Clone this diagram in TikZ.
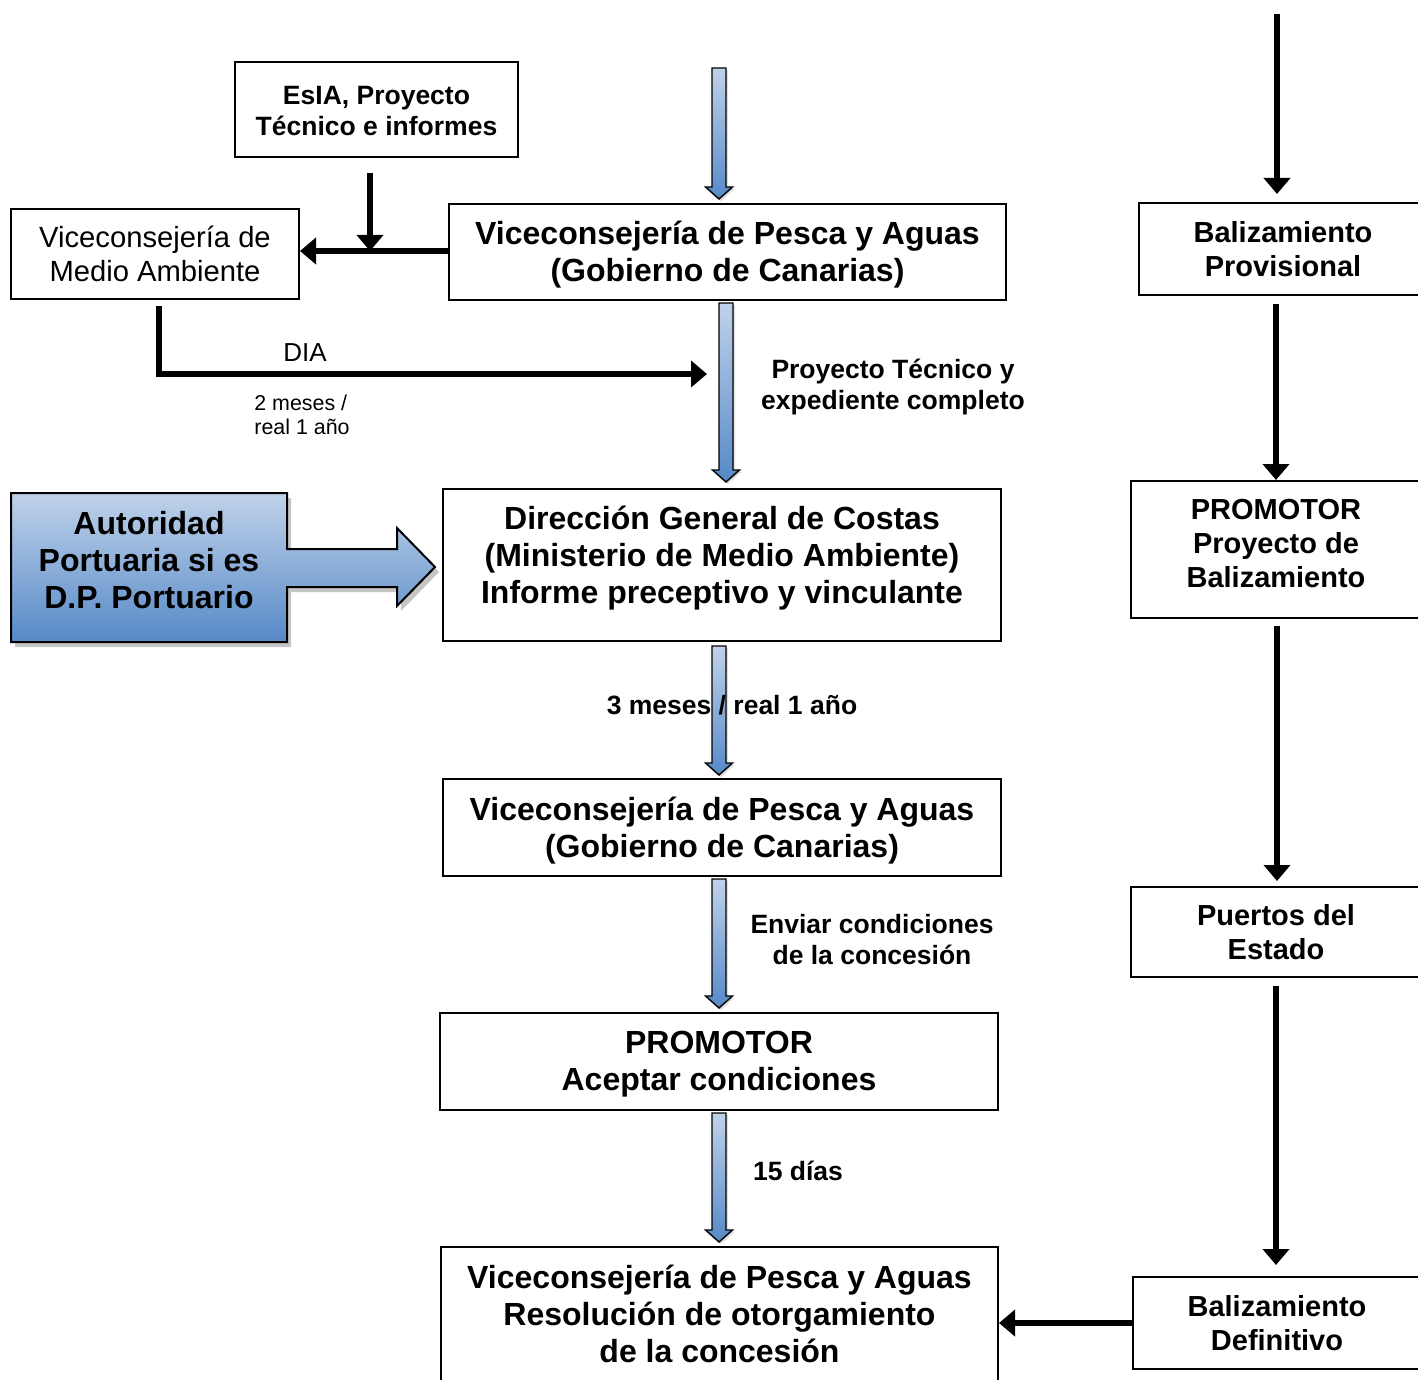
\documentclass[tikz,border=0pt]{standalone}
\usepackage{fontspec}
\setmainfont{Liberation Sans}
\usetikzlibrary{arrows.meta,calc,shadows}
\definecolor{bltop}{RGB}{192,210,234}
\definecolor{blbot}{RGB}{86,137,199}
\newcommand\blarrow[2]{%
  \path[blarrowstyle] let \p1=(#1), \p2=(#2) in
    (\x1-3.5pt,\y1) -- (\x1-3.5pt,\y2+6pt) -- (\x1-6.75pt,\y2+6pt) -- (\x1,\y2)
    -- (\x1+6.75pt,\y2+6pt) -- (\x1+3.5pt,\y2+6pt) -- (\x1+3.5pt,\y1) -- cycle;}
\begin{document}
\begin{tikzpicture}[x=0.5pt,y=-0.5pt,
  box/.style={draw, line width=1pt, inner sep=0pt, align=center},
  bigf/.style={font=\bfseries\fontsize{16}{18.5}\selectfont},
  midf/.style={font=\bfseries\fontsize{13.25}{15.5}\selectfont},
  rf/.style={font=\bfseries\fontsize{14.5}{17}\selectfont},
  lbl/.style={inner sep=0pt, align=center},
  blk/.style={line width=2.75pt, -{Triangle[width=13pt,length=8pt]}},
  blarrowstyle/.style={draw=black, line width=0.7pt, top color=bltop, bottom color=blbot,
     drop shadow={shadow xshift=1pt, shadow yshift=-1pt, opacity=0.25}},
]
\useasboundingbox (0,0) rectangle (1418,1380);
\clip (0,0) rectangle (1418,1380);
\fill[white] (0,0) rectangle (1418,1380);

% ---- boxes ----
\node[box, minimum width=141.5pt, minimum height=47.5pt] (esia) at (376.5,109.5) {};
\node[lbl, midf] (esiat) at (376.5,111) {EsIA, Proyecto\\Técnico e informes};
\node[box, font=\fontsize{14.6}{17}\selectfont, minimum width=144pt, minimum height=45pt] (vma) at (155,254)
  {Viceconsejería de\\Medio Ambiente};
\node[box, minimum width=278.5pt, minimum height=48pt] (vp1) at (727.5,252) {};
\node[lbl, bigf] (vp1t) at (727.5,255) {Viceconsejería de Pesca y Aguas\\(Gobierno de Canarias)};
\node[box, rf, minimum width=144pt, minimum height=46pt] (bp) at (1283,249)
  {Balizamiento\\Provisional};
\node[box, minimum width=279pt, minimum height=76pt] (dgc) at (722,565) {};
\node[lbl, bigf] (dgct) at (722,558)
  {Dirección General de Costas\\(Ministerio de Medio Ambiente)\\Informe preceptivo y vinculante};
\node[box, minimum width=145pt, minimum height=68.5pt] (ppb) at (1276,549.5) {};
\node[lbl, rf] (ppbt) at (1276,544) {PROMOTOR\\Proyecto de\\Balizamiento};
\node[box, minimum width=279pt, minimum height=48.5pt] (vp2) at (722,827.5) {};
\node[lbl, bigf] (vp2t) at (722,830.5) {Viceconsejería de Pesca y Aguas\\(Gobierno de Canarias)};
\node[box, rf, minimum width=145pt, minimum height=45pt] (pe) at (1276,932)
  {Puertos del\\Estado};
\node[box, minimum width=279pt, minimum height=48.5pt] (pac) at (719,1061.5) {};
\node[lbl, bigf] (pact) at (719,1064.5) {PROMOTOR\\Aceptar condiciones};
\node[box, bigf, minimum width=278.5pt, minimum height=67pt] (vpf) at (719.5,1314)
  {Viceconsejería de Pesca y Aguas\\Resolución de otorgamiento\\de la concesión};
\node[box, rf, minimum width=144pt, minimum height=46pt] (bd) at (1277,1323)
  {Balizamiento\\Definitivo};

% ---- Autoridad portuaria block with arrow ----
\path[draw=black, line width=1pt, top color=bltop, bottom color=blbot,
      drop shadow={shadow xshift=2pt, shadow yshift=-2.5pt, opacity=0.45}]
  (11,493) -- (287,493) -- (287,549) -- (397,549) -- (397,528) -- (435,567)
  coordinate (auttip) -- (397,606) -- (397,587) -- (287,587) -- (287,642) -- (11,642) -- cycle;
\node[lbl, bigf] (aut) at (149,560) {Autoridad\\Portuaria si es\\D.P. Portuario};

% ---- labels ----
\node[lbl, midf] (ptl) at (893,387) {Proyecto Técnico y\\expediente completo};
\node[lbl, font=\fontsize{13}{15}\selectfont] (dia) at (305,353) {DIA};
\node[lbl, align=left, anchor=west, font=\fontsize{10.7}{12}\selectfont] (dos) at (254,415)
  {2 meses /\\real 1 año};
\node[lbl, midf] (env) at (872,940) {Enviar condiciones\\de la concesión};
\node[lbl, midf] (quince) at (798,1171) {15 días};

% ---- blue arrows ----
\coordinate (a1s) at (719,68);
\blarrow{a1s}{$(vp1.north)+(-8.5,-4)$}
\blarrow{$(vp1.south)+(-1.5,2)$}{$(dgc.north)+(4,-6)$}
\blarrow{$(dgc.south)+(-3,4)$}{$(vp2.north)+(-3,-3)$}
\blarrow{$(vp2.south)+(-3,2)$}{$(pac.north)+(0,-4)$}
\blarrow{$(pac.south)+(0,2)$}{$(vpf.north)+(0,-4)$}
\node[lbl, midf] (tres) at (732,705) {3 meses / real 1 año};

% ---- black arrows ----
\coordinate (esiaarr) at (370,173);
\coordinate (join) at (370,251);
\draw[blk] (vp1.west |- join) -- (vma.east |- join);
\draw[blk] (esiaarr) -- (join);
\coordinate (diacorner) at (159,374);
\coordinate (diaend) at (707,374);
\draw[blk, shorten <=3pt] (vma.south -| diacorner) -- (diacorner) -- (diaend);

\coordinate (rtop) at (1277,14);
\draw[blk, shorten >=4pt] (rtop) -- (bp.north -| rtop);
\coordinate (r2) at (1276,0);
\draw[blk, shorten <=4pt] (bp.south -| r2) -- (ppb.north -| r2);
\coordinate (r3) at (1277,0);
\draw[blk, shorten <=3.5pt, shorten >=2.5pt] (ppb.south -| r3) -- (pe.north -| r3);
\coordinate (r4) at (1276,0);
\draw[blk, shorten <=4pt, shorten >=5.5pt] (pe.south -| r4) -- (bd.north -| r4);
\coordinate (bh) at (0,1323);
\draw[blk] (bd.west |- bh) -- (vpf.east |- bh);
\end{tikzpicture}
\end{document}
